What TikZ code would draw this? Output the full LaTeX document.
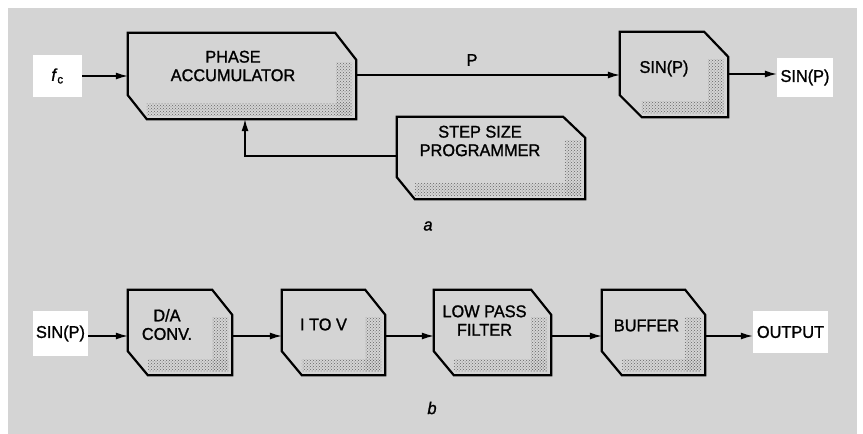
\documentclass[tikz,border=0pt]{standalone}
\usepackage{fontspec}
\setmainfont{Liberation Sans}[FakeStretch=0.96,FakeBold=1.2]
\usetikzlibrary{arrows.meta,patterns,calc}
\definecolor{bgray}{gray}{0.83}
\newcommand\chbox[5]{%
  \fill[pattern=crosshatch dots, pattern color=black!60] ($(#1.north east)+(-20pt,-#3pt-3pt)$) rectangle ($(#1.south east)+(-4pt,4pt)$);
  \fill[pattern=crosshatch dots, pattern color=black!60] ($(#1.south west)+(#4pt,4pt)$) rectangle ($(#1.south east)+(-4pt,16pt)$);
  \draw[outl] (#1.north west) -- ($(#1.north east)+(-#2pt,0pt)$) -- ($(#1.north east)+(0pt,-#3pt)$) -- (#1.south east) -- ($(#1.south west)+(#4pt,0pt)$) -- ($(#1.south west)+(0pt,#5pt)$) -- cycle;
}
\begin{document}
\begin{tikzpicture}[x=1pt,y=-1pt,
  boxn/.style={draw=none, inner sep=0pt, minimum width=#1},
  outl/.style={line width=2.2pt, line join=miter, fill=none},
  txt/.style={font=\fontsize{17}{18.5}\selectfont, align=center, inner sep=0pt},
  tag/.style={fill=white, inner sep=0pt, font=\fontsize{17}{18.5}\selectfont},
  arr/.style={line width=1.3pt, -{Latex[length=12pt,width=7pt]}},
  ln/.style={line width=1.3pt}]
\useasboundingbox (0,0) rectangle (863,434);
\fill[white] (0,0) rectangle (863,434);
\fill[bgray] (8,8) rectangle (857,434);

% top row
\node[boxn=228pt, minimum height=86pt] (pa) at (242,76) {};
\node[boxn=108pt, minimum height=85pt] (s1) at (674,74.5) {};
\node[boxn=188pt, minimum height=82pt] (sp) at (491,158) {};
% bottom row
\node[boxn=104pt, minimum height=85pt] (da) at (180,332.5) {};
\node[boxn=103pt, minimum height=85pt] (iv) at (333.5,332.5) {};
\node[boxn=117pt, minimum height=85pt] (lp) at (492.5,332.5) {};
\node[boxn=103pt, minimum height=85pt] (bf) at (653.5,332.5) {};

\chbox{pa}{21}{27}{19}{24}
\chbox{s1}{24}{25}{22}{22}
\chbox{sp}{22}{21}{18}{22}
\chbox{da}{20}{25}{20}{24}
\chbox{iv}{20}{25}{20}{24}
\chbox{lp}{20}{25}{20}{24}
\chbox{bf}{20}{25}{20}{24}

\node[txt] (pa-t) at ($(pa)+(-9,-10)$) {PHASE\\ACCUMULATOR};
\node[txt] (s1-t) at ($(s1)+(-10,-6)$) {SIN(P)};
\node[txt] (sp-t) at ($(sp)+(-11,-17)$) {STEP SIZE\\PROGRAMMER};
\node[txt] (da-t) at ($(da)+(-13,-8)$) {D/A\\CONV.};
\node[txt] (iv-t) at ($(iv)+(-10,-8)$) {I TO V};
\node[txt] (lp-t) at ($(lp)+(-8,-12)$) {LOW PASS\\FILTER};
\node[txt] (bf-t) at ($(bf)+(-7,-7)$) {BUFFER};

% tags
\node[tag, minimum width=49pt, minimum height=42pt] (fc) at (57.5,76) {\itshape f\/\textsubscript{\upshape c}};
\node[tag, minimum width=56pt, minimum height=39pt] (so) at (805,77.5) {SIN(P)};
\node[tag, minimum width=55pt, minimum height=45pt] (si) at (60.5,333.5) {SIN(P)};
\node[tag, minimum width=75pt, minimum height=42pt] (out) at (790.5,332) {OUTPUT};

\node[txt] (p) at (472,60) {P};
\node[txt, font=\fontsize{17}{18.5}\selectfont\itshape] (la) at (428,226) {a};
\node[txt, font=\fontsize{17}{18.5}\selectfont\itshape] (lb) at (432,408) {b};

% connectors
\draw[arr] (fc.east) -- (fc.east -| pa.west);
\draw[arr] ([yshift=1pt]pa.east) -- ([yshift=1pt]pa.east -| s1.west);
\draw[arr] ([yshift=0.5pt]s1.east) -- ([yshift=0.5pt]s1.east -| so.west);
\draw[arr] ([yshift=2pt]sp.west) -| ([xshift=3pt]pa.south);

\draw[arr] ([yshift=-2.5pt]si.east) -- ([yshift=-2.5pt]si.east -| da.west);
\draw[arr] ([yshift=-3.5pt]da.east) -- ([yshift=-3.5pt]da.east -| iv.west);
\draw[arr] ([yshift=-3.5pt]iv.east) -- ([yshift=-3.5pt]iv.east -| lp.west);
\draw[arr] ([yshift=-3.5pt]lp.east) -- ([yshift=-3.5pt]lp.east -| bf.west);
\draw[arr] ([yshift=-3.5pt]bf.east) -- ([yshift=-3.5pt]bf.east -| out.west);
\end{tikzpicture}
\end{document}
